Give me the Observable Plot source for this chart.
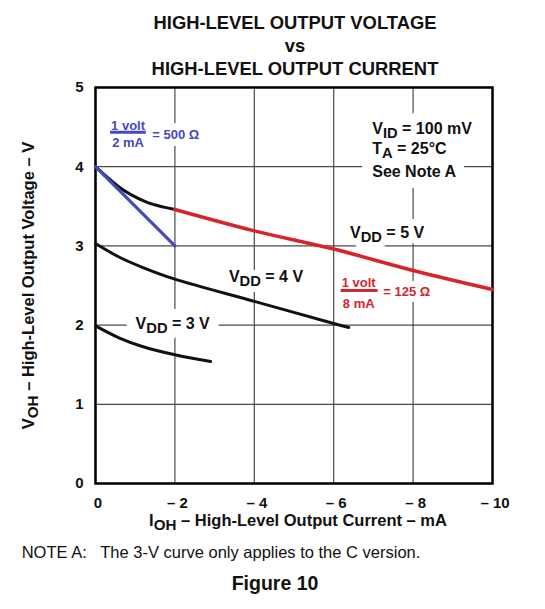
<!DOCTYPE html>
<html>
<head>
<meta charset="utf-8">
<script src="https://cdn.jsdelivr.net/npm/d3@7"></script>
<script src="https://cdn.jsdelivr.net/npm/@observablehq/plot@0.6"></script>
<style>
  body { margin:0; background:#fff; font-family:"Liberation Sans", Arial, sans-serif; }
  #wrap { position:relative; width:545px; height:609px; overflow:hidden; }
  #title { position:absolute; top:0; left:45px; width:500px; text-align:center; font-weight:bold;
           font-size:18.4px; line-height:23px; padding-top:11.4px; color:#111; z-index:2; }
  #chart { position:absolute; top:66px; left:0; z-index:1; }
  #note { position:absolute; top:541.6px; left:21.7px; font-size:16.5px; line-height:20px; white-space:pre; color:#111; }
  #fig { position:absolute; top:571.2px; left:231.7px; font-size:19.5px; line-height:24px; font-weight:bold; color:#111; }
</style>
</head>
<body>
<div id="wrap">
  <div id="title">HIGH-LEVEL OUTPUT VOLTAGE<br>vs<br>HIGH-LEVEL OUTPUT CURRENT</div>
  <div id="chart"></div>
  <div id="note">NOTE A:   The 3-V curve only applies to the C version.</div>
  <div id="fig">Figure 10</div>
</div>
<script>
// ---- data ----
const xTicks = [0, -2, -4, -6, -8, -10];
const yTicks = [0, 1, 2, 3, 4, 5];

const vdd5x = [0, -0.55, -0.88, -1.30, -1.72, -2.0];
const vdd5y = [4.0, 3.76, 3.65, 3.55, 3.49, 3.46];
const load125x = [-2, -4, -6, -8, -10];
const load125y = [3.46, 3.19, 2.96, 2.69, 2.45];
const load500x = [0, -2];
const load500y = [4.0, 3.0];
const vdd4x = [0, -0.59, -1.18, -2, -4, -6, -6.38];
const vdd4y = [3.03, 2.86, 2.73, 2.58, 2.30, 2.02, 1.97];
const vdd3x = [0, -0.59, -1.18, -2, -2.9];
const vdd3y = [1.99, 1.84, 1.73, 1.625, 1.54];

// text annotations (anchored in data units)
const condText = ["V_{ID} = 100 mV", "T_{A} = 25°C", "See Note A"];
const condX = [-6.97, -6.97, -6.97];
const condY = [4.48, 4.23, 3.94];
const curveText = ["V_{DD} = 5 V", "V_{DD} = 4 V", "V_{DD} = 3 V"];
const curveX = [-6.41, -3.36, -1.01];
const curveY = [3.17, 2.61, 2.02];
const blueFrac = ["1 volt", "2 mA"];
const blueFracX = [-0.82, -0.82];
const blueFracY = [4.51, 4.30];
const blueBar = {x1: -0.38, x2: -1.28, y: 4.436};
const blueEq = {text: "= 500 Ω", x: -1.43, y: 4.40};
const redFrac = ["1 volt", "8 mA"];
const redFracX = [-6.63, -6.63];
const redFracY = [2.54, 2.27];
const redBar = {x1: -6.19, x2: -7.12, y: 2.437};
const redEq = {text: "= 125 Ω", x: -7.25, y: 2.42};

const xLabel = "I_{OH} – High-Level Output Current – mA";
const yLabel = "V_{OH} – High-Level Output Voltage – V";

const BLUE = "#4747c4";
const RED = "#d8232c";
const INK = "#111";

const zip = (xs, ys) => xs.map((x, i) => ({x, y: ys[i]}));
const zipT = (ts, xs, ys) => ts.map((t, i) => ({t, x: xs[i], y: ys[i]}));

// a label drawn twice: a white knock-out halo underneath, then the ink
function label(data, opts, color, halo) {
  const base = {x: "x", y: "y", text: "t", fontWeight: "bold", ...opts};
  return [
    Plot.text(data, {...base, fill: "white", stroke: "white", strokeWidth: halo, strokeLinejoin: "round"}),
    Plot.text(data, {...base, fill: color})
  ];
}
const curveLabels = zipT(curveText, curveX, curveY);

const plot = Plot.plot({
  width: 545,
  height: 472,
  marginLeft: 95,
  marginRight: 53,
  marginTop: 21,
  marginBottom: 55,
  style: {fontFamily: '"Liberation Sans", Arial, sans-serif', fontWeight: "bold", fontSize: "15px", color: INK, background: "transparent"},
  x: {domain: [0, -10]},
  y: {domain: [0, 5]},
  marks: [
    Plot.gridX(xTicks, {stroke: "#4a4a4a", strokeOpacity: 1, strokeWidth: 1.2}),
    Plot.gridY(yTicks, {stroke: "#4a4a4a", strokeOpacity: 1, strokeWidth: 1.2}),
    Plot.axisX(xTicks, {tickSize: 0, tickPadding: 14, dx: 2.5, label: null,
      tickFormat: d => d === 0 ? "0" : "\u2013 " + Math.abs(d), fontSize: 15}),
    Plot.axisY(yTicks, {tickSize: 0, tickPadding: 12, label: null, tickFormat: d => String(d), fontSize: 15}),
    Plot.frame({stroke: "black", strokeWidth: 2.5}),
    // axis titles
    Plot.text([xLabel], {frameAnchor: "bottom", textAnchor: "middle", dy: 42, dx: 4, fontSize: 16.5, fontWeight: "bold", fill: INK}),
    Plot.text([yLabel], {frameAnchor: "left", textAnchor: "middle", rotate: -90, dx: -67, fontSize: 16.5, fontWeight: "bold", fill: INK}),
    // labels with white knock-out halos
    ...label(zipT(condText, condX, condY), {textAnchor: "start", fontSize: 16}, INK, 22),
    ...label([curveLabels[0]], {textAnchor: "start", fontSize: 16}, INK, 14),
    ...label([curveLabels[1]], {textAnchor: "start", fontSize: 16}, INK, 12),
    ...label([curveLabels[2]], {textAnchor: "start", fontSize: 16}, INK, 22),
    ...label(zipT(blueFrac, blueFracX, blueFracY), {fontSize: 13}, BLUE, 8),
    ...label([{t: blueEq.text, x: blueEq.x, y: blueEq.y}], {textAnchor: "start", fontSize: 13}, BLUE, 14),
    Plot.ruleY([blueBar], {x1: "x1", x2: "x2", y: "y", stroke: BLUE, strokeWidth: 3}),
    ...label(zipT(redFrac, redFracX, redFracY), {fontSize: 13}, RED, 8),
    ...label([{t: redEq.text, x: redEq.x, y: redEq.y}], {textAnchor: "start", fontSize: 13}, RED, 12),
    Plot.ruleY([redBar], {x1: "x1", x2: "x2", y: "y", stroke: RED, strokeWidth: 3}),
    // curves
    Plot.line(zip(vdd3x, vdd3y), {x: "x", y: "y", curve: "catmull-rom", stroke: INK, strokeWidth: 3}),
    Plot.line(zip(vdd4x, vdd4y), {x: "x", y: "y", curve: "catmull-rom", stroke: INK, strokeWidth: 3}),
    Plot.line(zip(vdd5x, vdd5y), {x: "x", y: "y", curve: "catmull-rom", stroke: INK, strokeWidth: 3}),
    Plot.line(zip(load125x, load125y), {x: "x", y: "y", curve: "catmull-rom", stroke: RED, strokeWidth: 3.5}),
    Plot.line(zip(load500x, load500y), {x: "x", y: "y", stroke: BLUE, strokeWidth: 3.2})
  ]
});
document.getElementById("chart").appendChild(plot);

// turn "_{...}" into lowered subscript tspans
const NS = "http://www.w3.org/2000/svg";
plot.querySelectorAll("text, tspan").forEach(el => {
  if (el.children.length) return;
  const s = el.textContent;
  if (!s.includes("_{")) return;
  const fs = parseFloat(getComputedStyle(el).fontSize) || 15;
  const sh = (0.28 * fs).toFixed(2);
  el.textContent = "";
  let lowered = false;
  s.split(/(_\{[^}]*\})/).forEach(p => {
    if (!p) return;
    const t = document.createElementNS(NS, "tspan");
    if (p.startsWith("_{")) {
      t.textContent = p.slice(2, -1);
      t.setAttribute("dy", sh);
      t.style.fontSize = "0.92em";
      lowered = true;
    } else {
      t.textContent = p;
      if (lowered) { t.setAttribute("dy", "-" + sh); lowered = false; }
    }
    el.appendChild(t);
  });
});
</script>
</body>
</html>
